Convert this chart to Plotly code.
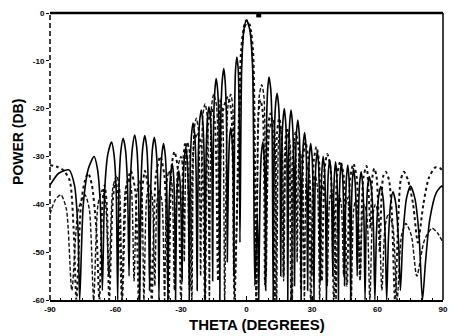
import plotly.graph_objects as go

# ---- data (theta in degrees, power in dB) ----
# solid pattern: nulls, lobe shoulders and lobe peaks
solid_theta = [-90, -86, -81.3, -78.8, -77.2, -76.4,
               -74.75, -72.4, -69.8, -68.3, -66.95, -66,
               -64.95, -63.5, -61.8, -60.7, -59.7, -59,
               -58.4, -57.5, -56.5, -55.4, -54.5, -53.8,
               -53.2, -52.2, -51.2, -50.3, -49.5, -48.9,
               -48.3, -47.5, -46.6, -45.7, -45, -44.4,
               -43.8, -43.1, -42.2, -41.4, -40.6, -40.1,
               -39.6, -38.8, -38, -37.2, -36.5, -36,
               -35.5, -34.8, -34, -33.4, -32.9, -32.5,
               -32.1, -31.6, -31, -30.4, -29.9, -29.5,
               -29.1, -28.5, -27.8, -27.2, -26.6, -26.2,
               -25.8, -25.2, -24.5, -23.7, -23.1, -22.6,
               -22.1, -21.5, -20.7, -20, -19.4, -19,
               -18.5, -17.9, -17.2, -16.5, -15.9, -15.5,
               -15.1, -14.5, -13.9, -13.2, -12.6, -12.2,
               -11.75, -11.1, -10.4, -9.8, -9.2, -8.8,
               -8.3, -7.8, -7.2, -6.6, -6.1, -5.8,
               -5.4, -5, -4.4, -3.8, -3.4, -3,
               -2.2, -1.2, 0, 1.5, 2.8, 3.8,
               5, 5.6,
               6.2, 6.8, 7.5, 8, 8.5, 8.8,
               9.2, 9.7, 10.3, 11.1, 11.7, 12.2,
               12.7, 13.3, 14, 14.7, 15.3, 15.7,
               16.1, 16.7, 17.3, 17.9, 18.5, 18.9,
               19.3, 19.8, 20.4, 21, 21.6, 22,
               22.4, 22.9, 23.5, 24.1, 24.6, 25,
               25.4, 26, 26.6, 27.2, 27.6, 28,
               28.4, 28.8, 29.4, 30, 30.5, 30.9,
               31.3, 31.8, 32.4, 33, 33.4, 33.8,
               34.1, 34.6, 35.1, 35.7, 36.2, 36.6,
               37, 37.5, 38.1, 38.7, 39.1, 39.5,
               39.8, 40.3, 40.8, 41.3, 41.8, 42.1,
               42.4, 42.9, 43.4, 44, 44.5, 44.9,
               45.3, 45.8, 46.4, 46.9, 47.4, 47.7,
               48, 48.5, 49, 49.7, 50.3, 50.7,
               51.2, 51.8, 52.5, 53.2, 53.8, 54.3,
               54.8, 55.4, 56.2, 57.2, 58.1, 58.8,
               59.5, 60.4, 61.5, 62.6, 63.5, 64.2,
               65, 66, 67.1, 68.4, 69.6, 70.5,
               71.7, 73.3, 75.1, 77.1, 79, 80.6,
               82, 84, 87, 89.4, 90]
solid_db = [-36, -33.5, -32.8, -36, -45, -60,
            -40, -32.5, -30, -32.5, -40, -58,
            -37, -29.5, -27, -29.5, -37, -60,
            -36.2, -28.7, -26.2, -28.7, -36.2, -55,
            -35.5, -28, -25.5, -28, -35.5, -60,
            -35.6, -28.1, -25.6, -28.1, -35.6, -58,
            -36, -28.5, -26, -28.5, -36, -60,
            -37.3, -29.8, -27.3, -29.8, -37.3, -60,
            -41.5, -34, -31.5, -34, -41.5, -60,
            -43, -35.5, -33, -35.5, -43, -56,
            -38, -30.5, -28, -30.5, -38, -60,
            -33, -25.5, -23, -25.5, -33, -58,
            -30.3, -22.8, -20.3, -22.8, -30.3, -60,
            -29.6, -22.1, -19.6, -22.1, -29.6, -56,
            -23.7, -16.2, -13.7, -16.2, -23.7, -60,
            -21.6, -14.1, -11.6, -14.1, -21.6, -52,
            -34, -26.5, -24, -26.5, -34, -55,
            -19.2, -11.7, -9.2, -11.7, -19.2, -48,
            -11.5, -3.5, -1.5, -3.5, -11.5, -57,
            -42, -60,
            -37, -29.5, -27, -29.5, -37, -58,
            -23.4, -15.9, -13.4, -15.9, -23.4, -60,
            -26.8, -19.3, -16.8, -19.3, -26.8, -55,
            -30, -22.5, -20, -22.5, -30, -60,
            -30.3, -22.8, -20.3, -22.8, -30.3, -57,
            -32.4, -24.9, -22.4, -24.9, -32.4, -60,
            -35, -27.5, -25, -27.5, -35, -58,
            -37.3, -29.8, -27.3, -29.8, -37.3, -60,
            -39, -31.5, -29, -31.5, -39, -56,
            -40, -32.5, -30, -32.5, -40, -60,
            -40.7, -33.2, -30.7, -33.2, -40.7, -55,
            -41.1, -33.6, -31.1, -33.6, -41.1, -60,
            -41.4, -33.9, -31.4, -33.9, -41.4, -57,
            -41.8, -34.3, -31.8, -34.3, -41.8, -60,
            -42.5, -35, -32.5, -35, -42.5, -55,
            -43.2, -35.7, -33.2, -35.7, -43.2, -60,
            -44.2, -36.7, -34.2, -36.7, -44.2, -60,
            -46.3, -38.8, -36.3, -38.8, -46.3, -60,
            -47.4, -39.9, -37.4, -39.9, -47.4, -58,
            -46.2, -38.7, -36.2, -38.7, -46.2, -60,
            -52, -43, -37.5, -36.2, -36.4]

# dotted pattern
dotted_theta = [-90, -86.5, -84, -81, -79.2, -77.9, -75.8, -74, -72.5, -70.8, -68.8, -67.4,
                -66, -65, -64, -62.9, -61.2, -60, -58.7, -57, -55, -53, -51, -49.3,
                -47.8, -46.5, -45, -43.4, -41.5, -39.5, -37.6, -35.7, -34.3, -33, -31.6, -30,
                -29, -28, -27, -26, -24.2, -22.5, -20.7, -19, -17.5, -16, -14.5, -13,
                -10.8, -8.5, -7, -5.5, -2.5, -1, 0, 1.5, 3, 4.5, 5.5, 6.4, 7.5, 8.5,
                9.8, 11, 12, 13, 14, 15, 16, 17, 17.8, 18.5, 19.5, 20.5, 21.5, 22.5, 23.8, 25,
                26, 27, 28.2, 29.5, 30.8, 32, 33.2, 34.5, 35.8, 37, 38.5, 40, 41.5, 43, 44.5,
                46, 47.5, 49, 50.5, 52, 53.5, 55, 56.8, 57.6, 58.5, 59.5, 60.3, 61, 61.9,
                62.7, 63.8, 65.3, 66.6, 68, 69.6, 70.6, 72.1, 74, 76.3, 78.5, 81, 83.5, 86.4,
                88.5, 90]
dotted_db = [-31.8, -32.2, -32.8, -35, -45, -60, -40, -35, -33.5, -36, -45, -60,
             -40, -36, -40, -60, -39, -35, -39, -60, -37, -33, -37, -60,
             -37, -33, -37, -60, -34, -30, -34, -60, -32, -29, -32, -60,
             -31, -27, -31, -58, -28, -25, -28, -60, -23, -20, -23, -56,
             -20.5, -17.5, -20.5, -60, -8, -2.5, -1.5, -2.5, -8, -60, -21, -18.2, -21, -57,
             -24, -21, -24, -60, -25, -22, -25, -55, -27, -24, -27, -60, -28, -25, -28, -58,
             -30, -27, -30, -60, -31, -28, -31, -56, -32.5, -29.5, -32.5, -60, -34, -31, -34,
             -57, -34.5, -31.5, -34.5, -55, -34.5, -32, -45, -34.5, -32.5, -34, -40, -50, -38,
             -34, -33.2, -35, -42, -60, -42, -35, -33.2, -35, -40, -48, -40, -34.5, -32.3,
             -32.4, -33]

# dash pattern
dashed_theta = [-90, -87.5, -85, -82.5, -80, -77, -74, -72, -70, -68, -66, -64.5, -63,
                -61.2, -59.5, -58.2, -57, -55.5, -54, -52.7, -51.5, -50.2, -49, -48, -47,
                -45.7, -44.5, -43.2, -42, -41, -40, -38.7, -37.5, -36.5, -35.5, -34.2, -33,
                -31.5, -30, -29.2, -28.5, -27.7, -27, -26, -25, -24, -23, -22, -21, -20, -19,
                -18, -17, -16, -15, -13.7, -12.5, -12, -11, -10, -8.5, -7.2, -6.3, -5.5,
                -2, -0.8, 0.5, 1.8, 3, 4.5, 5.8, 7, 8, 9, 10.5, 12, 12.9, 13.8, 14.7, 15.5,
                16.3, 17, 18, 19, 20, 21, 21.5, 22, 22.6, 23.2, 23.9, 24.5, 25.5, 26.5, 27.3,
                28, 29, 30, 30.8, 31.5, 32.5, 33.5, 34.3, 35, 36, 37, 38, 39, 40, 41, 41.8,
                42.5, 43.5, 44.5, 45.3, 46, 47, 48, 49, 50, 51, 52, 53, 54, 55.2, 56.5, 57.8,
                59, 60.5, 62, 63.5, 65, 67, 69, 71, 73, 75.5, 78, 81.5, 85, 87.5, 90]
dashed_db = [-42, -39, -38, -41, -58, -41, -38, -41, -60, -40, -37, -40, -55,
             -36.5, -34, -36.5, -60, -37, -34.5, -37, -56, -37.5, -35, -37.5, -60,
             -38.5, -36, -38.5, -57, -39.5, -37, -39.5, -60, -35.5, -33, -35.5, -58,
             -32.5, -30, -32.5, -52, -29.5, -27, -29.5, -60, -24.5, -22, -24.5, -55, -21.5, -19,
             -21.5, -60, -19.5, -17, -19.5, -50, -18, -20.5, -60, -19.5, -17, -19.5, -58,
             -8, -3, -2, -4, -12, -60, -17.5, -15, -17.5, -55, -24.5, -22, -24.5, -60, -26.5, -24,
             -26.5, -56, -27.5, -25, -27.5, -60, -29.5, -27, -29.5, -52, -31.5, -29, -31.5, -60,
             -34.5, -32, -34.5, -55, -36.5, -34, -36.5, -60, -38.5, -36, -38.5, -57, -39.5, -37,
             -39.5, -60, -40.5, -38, -40.5, -55, -41, -38.5, -41, -60, -41.5, -39, -41.5, -56,
             -42.5, -40, -42.5, -60, -42.5, -40, -42.5, -58, -44.5, -42, -44.5, -60, -46.5, -44,
             -46.5, -55, -47.5, -45, -46, -48]

marker_theta = [5.6]
marker_db = [-0.4]

x_ticks = [-90, -60, -30, 0, 30, 60, 90]
y_ticks = [0, -10, -20, -30, -40, -50, -60]

fig = go.Figure()
fig.add_trace(go.Scatter(x=dashed_theta, y=dashed_db, mode="lines",
                         line=dict(color="#111", width=1.4, dash="4px,2px", shape="spline", smoothing=0.7)))
fig.add_trace(go.Scatter(x=dotted_theta, y=dotted_db, mode="lines",
                         line=dict(color="#111", width=2, dash="dot", shape="spline", smoothing=0.7)))
fig.add_trace(go.Scatter(x=solid_theta, y=solid_db, mode="lines",
                         line=dict(color="#000", width=1.6, shape="spline", smoothing=0.7)))
fig.add_trace(go.Scatter(x=marker_theta, y=marker_db, mode="markers", cliponaxis=False,
                         marker=dict(symbol="square", size=5, color="#000")))

# frame: thick top, thin right, dashed left
fig.add_shape(type="line", xref="paper", yref="paper", x0=0, x1=1, y0=1, y1=1,
              line=dict(color="#000", width=2.5))
fig.add_shape(type="line", xref="paper", yref="paper", x0=1, x1=1, y0=0, y1=1,
              line=dict(color="#000", width=1.5))
fig.add_shape(type="line", xref="paper", yref="paper", x0=0, x1=0, y0=0, y1=1,
              line=dict(color="#000", width=1.5, dash="5px,3px"))

# axis titles
fig.add_annotation(text="<b>THETA (DEGREES)</b>", xref="paper", yref="paper",
                   x=0.526, y=-0.087, xanchor="center", yanchor="middle",
                   showarrow=False, font=dict(size=15))
fig.add_annotation(text="<b>POWER (DB)</b>", xref="paper", yref="paper",
                   x=-0.083, y=0.552, xanchor="center", yanchor="middle", textangle=-90,
                   showarrow=False, font=dict(size=14))

tick_font = dict(size=8, family="Liberation Sans, Arial, sans-serif", color="#000", weight="bold")

fig.update_layout(
    width=453, height=336,
    margin=dict(l=50, r=5, t=13, b=36),
    paper_bgcolor="white", plot_bgcolor="white",
    showlegend=False,
    font=dict(family="Liberation Sans, Arial, sans-serif", color="#000"),
    xaxis=dict(range=[-90, 90], tickvals=x_ticks, ticktext=[str(v) for v in x_ticks],
               showgrid=False, zeroline=False, showline=True, linecolor="#000", linewidth=2,
               ticks="inside", ticklen=4, tickcolor="#000", ticklabeloverflow="allow",
               minor=dict(dtick=5, ticks="inside", ticklen=2, tickcolor="#000"),
               tickfont=tick_font),
    yaxis=dict(range=[-60, 0], tickvals=y_ticks, ticktext=[str(v) for v in y_ticks],
               showgrid=False, zeroline=False, showline=False,
               ticks="outside", ticklen=3, tickcolor="#000", ticklabeloverflow="allow",
               tickfont=tick_font),
)

fig.write_html("out.html", config={"displayModeBar": False},
               post_script="document.body.style.margin='0';document.body.style.overflow='hidden';")
